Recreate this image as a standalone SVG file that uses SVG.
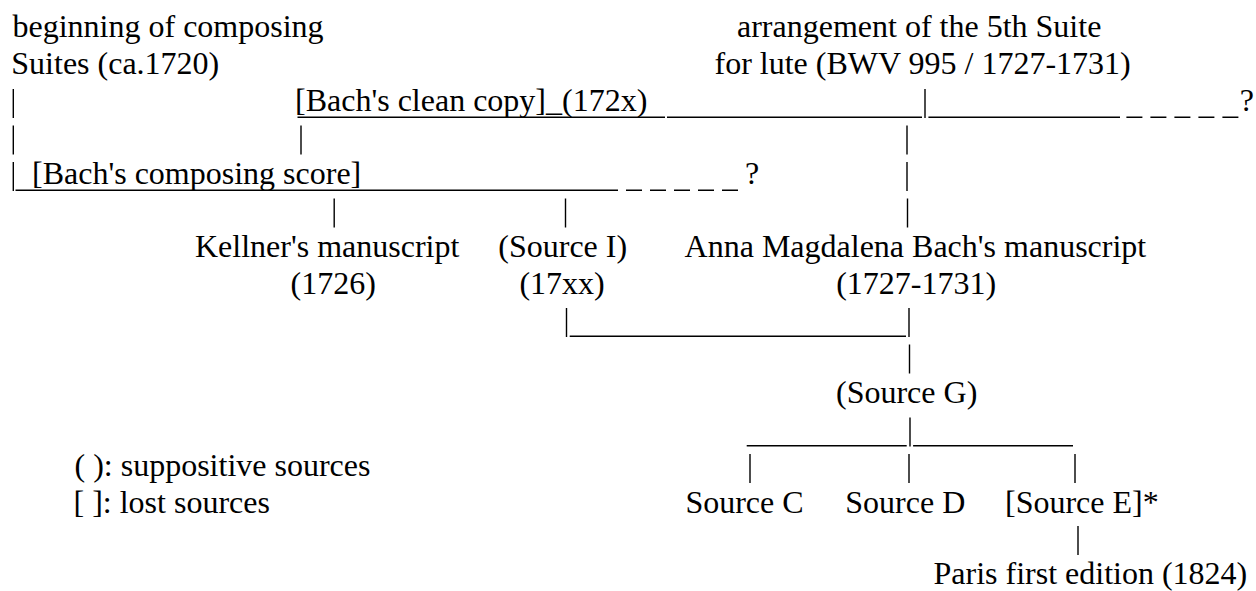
<svg xmlns="http://www.w3.org/2000/svg" width="1256" height="591" viewBox="0 0 1256 591">
<style>
.t{font-family:"Liberation Serif","Times New Roman",serif;font-size:32px;fill:#000}
.h{stroke:#000;stroke-width:1.6;fill:none}
.d{stroke:#000;stroke-width:1.6;fill:none;stroke-dasharray:16 8}
.v{stroke:#000;stroke-width:1.4;fill:none}
</style>
<rect width="1256" height="591" fill="#fff"/>
<g id="connectors">
<line class="v" x1="13.3" y1="89" x2="13.3" y2="118"/>
<line class="v" x1="925" y1="89" x2="925" y2="118"/>
<line class="h" x1="297.5" y1="117.3" x2="665" y2="117.3"/>
<line class="h" x1="667" y1="117.3" x2="922" y2="117.3"/>
<line class="h" x1="928.4" y1="117.3" x2="1120" y2="117.3"/>
<line class="d" x1="1126.4" y1="117.3" x2="1238.4" y2="117.3"/>
<text class="t" x="1239.8" y="111">?</text>
<line class="v" x1="13.3" y1="125.5" x2="13.3" y2="154.5"/>
<line class="v" x1="301" y1="125.5" x2="301" y2="154.5"/>
<line class="v" x1="907" y1="125.5" x2="907" y2="154.5"/>
<line class="v" x1="13.3" y1="162" x2="13.3" y2="191"/>
<line class="v" x1="907" y1="162" x2="907" y2="191"/>
<line class="h" x1="15.5" y1="190.3" x2="618" y2="190.3"/>
<line class="d" x1="626" y1="190.3" x2="738" y2="190.3"/>
<text class="t" x="745" y="184">?</text>
<line class="v" x1="334.2" y1="198.5" x2="334.2" y2="227.5"/>
<line class="v" x1="565.5" y1="198.5" x2="565.5" y2="227.5"/>
<line class="v" x1="907.5" y1="198.5" x2="907.5" y2="227.5"/>
<line class="v" x1="566.5" y1="308" x2="566.5" y2="337"/>
<line class="h" x1="569.7" y1="336.3" x2="906" y2="336.3"/>
<line class="v" x1="909" y1="308" x2="909" y2="337"/>
<line class="v" x1="909.5" y1="344.5" x2="909.5" y2="373.5"/>
<line class="v" x1="910" y1="417.5" x2="910" y2="446.5"/>
<line class="h" x1="746.7" y1="445.8" x2="906.7" y2="445.8"/>
<line class="h" x1="913.1" y1="445.8" x2="1073" y2="445.8"/>
<line class="v" x1="750" y1="454" x2="750" y2="483"/>
<line class="v" x1="909" y1="454" x2="909" y2="483"/>
<line class="v" x1="1075" y1="454" x2="1075" y2="483"/>
<line class="v" x1="1078" y1="526" x2="1078" y2="555"/>
</g>
<g id="composing-start">
<text class="t" x="12.5" y="37.4">beginning of composing</text>
<text class="t" x="11.3" y="74.2">Suites (ca.1720)</text>
</g>
<g id="lute-arrangement">
<text class="t" x="737" y="37.4">arrangement of the 5th Suite</text>
<text class="t" x="714.5" y="74.2">for lute (BWV 995 / 1727-1731)</text>
</g>
<g id="clean-copy">
<text class="t" x="295" y="111">[Bach's clean copy]_(172x)</text>
</g>
<g id="composing-score">
<text class="t" x="32" y="184">[Bach's composing score]</text>
</g>
<g id="kellner">
<text class="t" x="195" y="257">Kellner's manuscript</text>
<text class="t" x="290.6" y="293.5">(1726)</text>
</g>
<g id="source-i">
<text class="t" x="498.3" y="257">(Source I)</text>
<text class="t" x="519.4" y="293.5">(17xx)</text>
</g>
<g id="anna-magdalena">
<text class="t" x="684.6" y="257">Anna Magdalena Bach's manuscript</text>
<text class="t" x="836.2" y="293.5">(1727-1731)</text>
</g>
<g id="source-g">
<text class="t" x="836" y="403">(Source G)</text>
</g>
<g id="legend">
<text class="t" x="74.5" y="476">( ): suppositive sources</text>
<text class="t" x="73.5" y="512.5">[ ]: lost sources</text>
</g>
<g id="source-c">
<text class="t" x="685.4" y="512.5">Source C</text>
</g>
<g id="source-d">
<text class="t" x="845.3" y="512.5">Source D</text>
</g>
<g id="source-e">
<text class="t" x="1005" y="512.5">[Source E]*</text>
</g>
<g id="paris-edition">
<text class="t" x="933.5" y="583.5">Paris first edition (1824)</text>
</g>
</svg>
